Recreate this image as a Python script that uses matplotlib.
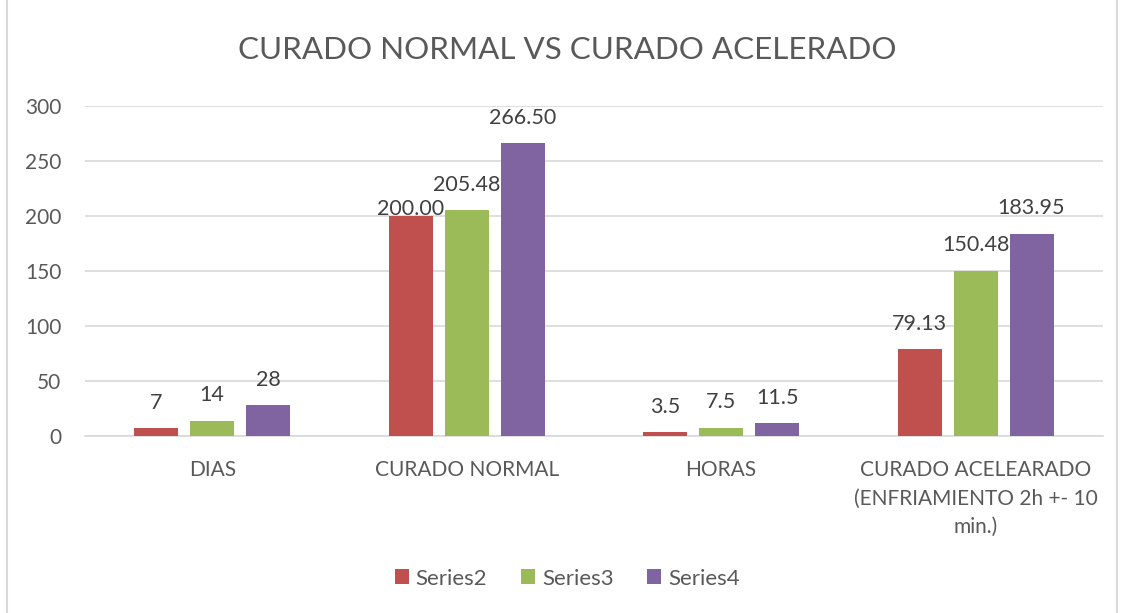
import numpy as np
import matplotlib.pyplot as plt
from matplotlib.patches import Rectangle

plt.rcParams['font.family'] = ['Lato', 'DejaVu Sans']

categorias = ['DIAS', 'CURADO NORMAL', 'HORAS',
              'CURADO ACELEARADO\n(ENFRIAMIENTO 2h +- 10\nmin.)']
series = ['Series2', 'Series3', 'Series4']
serie2 = [7, 200.00, 3.5, 79.13]
serie3 = [14, 205.48, 7.5, 150.48]
serie4 = [28, 266.50, 11.5, 183.95]
etiquetas2 = ['7', '200.00', '3.5', '79.13']
etiquetas3 = ['14', '205.48', '7.5', '150.48']
etiquetas4 = ['28', '266.50', '11.5', '183.95']
colores = ['#C0504D', '#9BBB59', '#8064A2']

fig = plt.figure(figsize=(11.23, 6.13), dpi=100)
ax = fig.add_axes([0.0757, 0.2887, 0.9063, 0.5383])

x = np.arange(len(categorias))
ancho = 0.173
paso = 0.22
datos = [serie2, serie3, serie4]
etiq = [etiquetas2, etiquetas3, etiquetas4]
for i in range(3):
    b = ax.bar(x + (i - 1) * paso, datos[i], ancho, color=colores[i],
               label=series[i], zorder=3)
    for j, r in enumerate(b):
        # la etiqueta 200.00 esta desplazada hacia abajo en el original
        pad = -2 if (i == 0 and j == 1) else 11
        ax.annotate(etiq[i][j], (r.get_x() + r.get_width() / 2, r.get_height()),
                    xytext=(0, pad), textcoords='offset points', ha='center',
                    va='bottom', fontsize=15.5, color='#404040')

ax.set_xlim(-0.5, 3.5)
ax.set_ylim(0, 300)
ax.set_yticks(np.arange(0, 301, 50))
ax.yaxis.grid(True, color='#D9D9D9', linewidth=1.2, zorder=0)
ax.set_xticks(x)
ax.set_xticklabels(categorias, fontsize=15, color='#595959', linespacing=1.55)
ax.tick_params(axis='both', length=0, colors='#595959')
ax.tick_params(axis='y', labelsize=15)
ax.tick_params(axis='x', pad=17)
ax.tick_params(axis='y', pad=17)
for s in ['top', 'right', 'left']:
    ax.spines[s].set_visible(False)
ax.spines['bottom'].set_color('#D9D9D9')
ax.spines['bottom'].set_linewidth(1.2)

fig.text(0.505, 0.918, 'CURADO NORMAL VS CURADO ACELERADO', ha='center',
         va='center', fontsize=22.6, color='#595959')

fig.legend(loc='center', bbox_to_anchor=(0.505, 0.056), ncol=3, frameon=False,
           fontsize=16, labelcolor='#595959', handlelength=0.65,
           handleheight=0.65, handletextpad=0.3, columnspacing=1.5)

fig.patches.append(Rectangle((0.006, -0.01), 0.989, 1.02, transform=fig.transFigure,
                             fill=False, edgecolor='#D9D9D9', linewidth=1.5))

fig.savefig('out.png', dpi=100)
